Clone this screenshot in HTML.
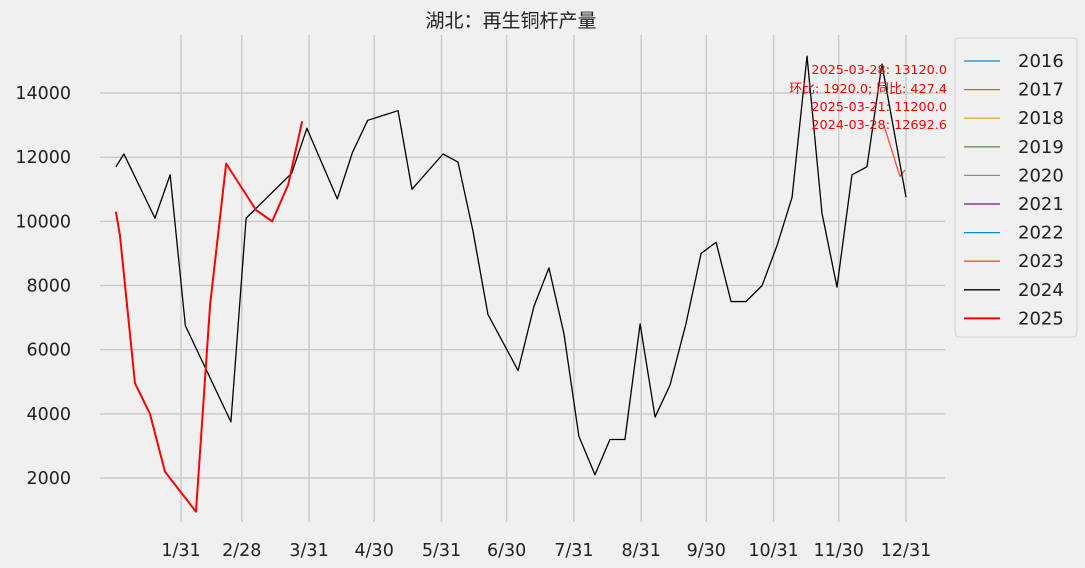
<!DOCTYPE html>
<html><head><meta charset="utf-8">
<style>
body{margin:0;background:#f0f0f0;}
svg{display:block;font-family:"DejaVu Sans","Noto Sans CJK SC",sans-serif;}
</style></head>
<body>
<svg id="chart" width="1085" height="568" viewBox="0 0 1085 568">
<rect width="1085" height="568" fill="#f0f0f0"/>
<text x="511" y="27" text-anchor="middle" font-size="19" fill="#222" font-family="Noto Sans CJK SC, sans-serif">湖北：再生铜杆产量</text>
<g id="grid"></g><g id="series"></g><g id="axes"></g>
<g id="annot" font-size="12.8" fill="#ff0000" text-anchor="end">
<text x="947" y="74">2025-03-28: 13120.0</text>
<text x="947" y="93">环比: 1920.0; 同比: 427.4</text>
<text x="947" y="111">2025-03-21: 11200.0</text>
<text x="947" y="129">2024-03-28: 12692.6</text>
</g>
<g id="legend"></g>
</svg>
<script>
const yTicks=[2000,4000,6000,8000,10000,12000,14000];
const xTickDays=[31,59,90,120,151,181,212,243,273,304,334,365];
const xTickLabels=["1/31","2/28","3/31","4/30","5/31","6/30","7/31","8/31","9/30","10/31","11/30","12/31"];
const legendYears=["2016","2017","2018","2019","2020","2021","2022","2023","2024","2025"];
const legendColors=["#008fd5","#fc4f30","#e5ae38","#6d904f","#8b8b8b","#810f7c","#008fd5","#fc4f30","#000000","#ff0000"];
const days2024=[1,4.7,19,26,33,54,61,82,89,103,110,117,131,137.4,151.7,158.6,165.5,172.4,186.3,193.6,200.5,207.4,214.3,221.7,228.6,235.5,242.5,249.4,256.3,263.6,270.6,277.5,284.4,291.3,298.7,305.6,312.5,319.4,326.3,333.2,340.1,347,353.9,365];
const vals2024=[11700,12100,10100,11450,6750,3750,10100,11500,12900,10700,12150,13150,13450,11000,12100,11850,9700,7100,5350,7350,8550,6500,3300,2100,3200,3200,6800,3900,4900,6800,9000,9350,7500,7500,8000,9250,10750,15150,10250,7950,11450,11700,14900,10750];
const days2023=[354.8,362.2,364.5];
const vals2023=[13000,11400,11600];
const days2025=[1,2.9,9.8,16.7,23.6,37.9,44.4,51.8,65.6,73,80.4,86.8];
const vals2025=[10300,9550,4950,4000,2200,950,7400,11800,10350,10000,11150,13120];
const X=d=>181+(d-31)*2.1707, Y=v=>478-(v-2000)*0.03208;
const NS="http://www.w3.org/2000/svg";
function mk(tag,attrs,parent,text){const e=document.createElementNS(NS,tag);for(const k in attrs)e.setAttribute(k,attrs[k]);if(text!==undefined)e.textContent=text;document.getElementById(parent).appendChild(e);return e;}
yTicks.forEach(t=>{
 const l=mk('line',{x1:100,x2:945,y1:Y(t),y2:Y(t),stroke:'#cbcbcb','stroke-width':1.5},'grid');
 
 
 const tx=mk('text',{x:71,y:Y(t)+6,'text-anchor':'end','font-size':17.5,fill:'#222'},'axes',String(t));
 
 
});
xTickDays.forEach((d,i)=>{
 const l=mk('line',{x1:X(d),x2:X(d),y1:35,y2:522,stroke:'#cbcbcb','stroke-width':1.5},'grid');
 
 
 const tx=mk('text',{x:X(d),y:556,'text-anchor':'middle','font-size':17.5,fill:'#222'},'axes',xTickLabels[i]);
 
 
});
function line(days,vals,color,w,name){
 const p=mk('polyline',{points:days.map((d,i)=>X(d)+','+Y(vals[i])).join(' '),fill:'none',stroke:color,'stroke-width':w,'stroke-linejoin':'round'},'series');
 
 
}
line(days2023,vals2023,'#fc4f30',1.3,'series-2023');
line(days2024,vals2024,'#000',1.3,'series-2024');
line(days2025,vals2025,'#ff0000',2,'series-2025');
const lb=mk('rect',{x:955,y:38,width:122,height:299,rx:4,fill:'#f0f0f0',stroke:'#d0d0d0'},'legend');


legendYears.forEach((yr,i)=>{
 const y=61+i*28.6;
 const g=mk('g',{},'legend');
 
 
 const l=document.createElementNS(NS,'line');
 l.setAttribute('x1',964);l.setAttribute('x2',1000);l.setAttribute('y1',y);l.setAttribute('y2',y);
 l.setAttribute('stroke',legendColors[i]);l.setAttribute('stroke-width',yr==='2025'?2:1.3);
 g.appendChild(l);
 const t=document.createElementNS(NS,'text');
 t.setAttribute('x',1018);t.setAttribute('y',y+6);t.setAttribute('font-size',18);t.setAttribute('fill','#222');
 t.textContent=yr;g.appendChild(t);
});
</script>
</body></html>
